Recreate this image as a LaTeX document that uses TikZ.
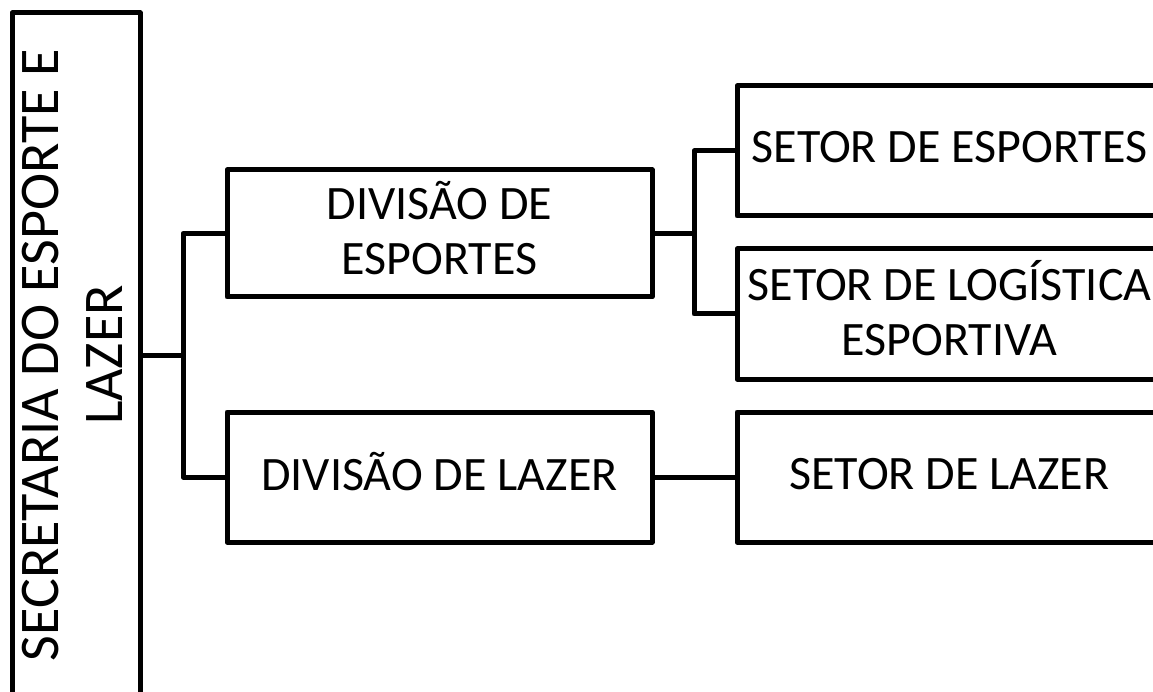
\documentclass[tikz,border=0pt]{standalone}
\usepackage{fontspec}
\setmainfont{Carlito}
\newcommand\lnstrut{\rule[-0.25em]{0pt}{1em}}
\begin{document}
\begin{tikzpicture}[x=1pt,y=-1pt,
  box/.style={draw=black,line width=5pt,line join=round,inner sep=0pt,align=center,
    font=\fontsize{48}{55}\selectfont},
  conn/.style={draw=black,line width=5pt,line join=round},
  big/.style={inner sep=0pt,align=center,font=\fontsize{56}{64}\selectfont}]
\useasboundingbox (0,0) rectangle (1153,692);
\clip (0,0) rectangle (1153,692);
\fill[white] (0,0) rectangle (1153,692);
% boxes
\node[box,minimum width=128pt,minimum height=684pt] (sec) at (76,355) {};
\node[big,rotate=90] (secT) at (sec.center) {\lnstrut SECRETARIA DO ESPORTE E\\LAZER\lnstrut};
\node[box,minimum width=425pt,minimum height=127pt] (divE) at (439.5,233.5) {\lnstrut DIVISÃO DE\\ESPORTES\lnstrut};
\node[box,minimum width=425pt,minimum height=130pt] (divL) at (439.5,477) {\lnstrut DIVISÃO DE LAZER};
\node[box,minimum width=425pt,minimum height=130pt] (setE) at (949.5,151) {\lnstrut SETOR DE ESPORTES};
\node[box,minimum width=425pt,minimum height=130pt] (setLog) at (949.5,314) {\lnstrut SETOR DE LOGÍSTICA\\ESPORTIVA\lnstrut};
\node[box,minimum width=425pt,minimum height=130pt] (setL) at (949.5,477) {\lnstrut SETOR DE LAZER};
% junctions
\coordinate (j1) at (183,355);
\coordinate (j2) at (694,233.5);
% connectors
\draw[conn] (sec.east) -- (j1);
\draw[conn] (divE.west) -| (j1);
\draw[conn] (divL.west) -| (j1);
\draw[conn] (divE.east) -- (j2);
\draw[conn] (setE.west) -| (j2);
\draw[conn] (setLog.west) -| (j2);
\draw[conn] (divL.east) -- (setL.west);
\end{tikzpicture}
\end{document}
